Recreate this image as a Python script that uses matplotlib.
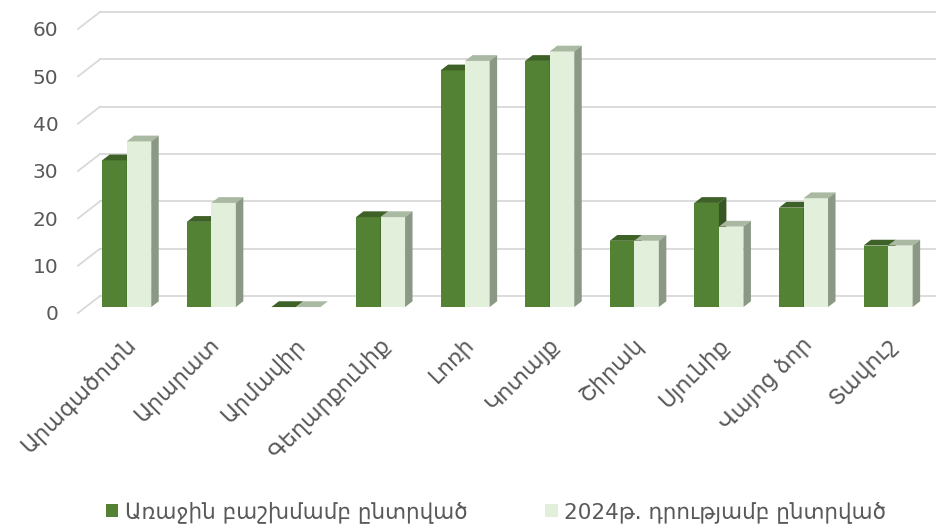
import matplotlib
matplotlib.use("Agg")
import matplotlib.pyplot as plt
from matplotlib.patches import Polygon, Patch

# data
regions = ["Արագածոտն", "Արարատ", "Արմավիր", "Գեղարքունիք", "Լոռի",
           "Կոտայք", "Շիրակ", "Սյունիք", "Վայոց ձոր", "Տավուշ"]
first_alloc = [31, 18, 0, 19, 50, 52, 14, 22, 21, 13]
as_of_2024 = [35, 22, 0, 19, 52, 54, 14, 17, 23, 13]
series_names = ["Առաջին բաշխմամբ ընտրված", "2024թ. դրությամբ ընտրված"]
yticks = [0, 10, 20, 30, 40, 50, 60]

# style
front_cols = ["#548235", "#E2EFDA"]
top_cols = ["#3D6126", "#AAB9A2"]
side_cols = ["#375623", "#8C9886"]
grid_col = "#D9D9D9"
text_col = "#595959"

W, H = 936, 529
fig = plt.figure(figsize=(W / 100, H / 100), dpi=100)
ax = fig.add_axes([78 / W, 216 / H, 858 / W, 284 / H])

xmin, xmax = -0.485, 9.657
ax.set_xlim(xmin, xmax)
ax.set_ylim(0, 60)

# fake 3d depth (floor depth in data units)
ddx, ddy = 0.26, 3.59
f0, f1 = 0.35, 0.69
bw = 0.29

# back wall gridlines and left diagonals
for v in yticks:
    ax.plot([xmin, xmin + ddx], [v, v + ddy], color=grid_col, lw=1.3,
            clip_on=False, zorder=1)
    ax.plot([xmin + ddx, xmax + 1], [v + ddy, v + ddy], color=grid_col,
            lw=1.3, clip_on=False, zorder=1)

dx = (f1 - f0) * ddx
dy = (f1 - f0) * ddy
base = f0 * ddy
for i in range(len(regions)):
    for k, vals in enumerate([first_alloc, as_of_2024]):
        v = vals[i]
        x0 = i - bw + k * bw + f0 * ddx
        z = 2 + i * 2 + k
        ax.bar(x0, v, bw, bottom=base, align="edge", color=front_cols[k],
               linewidth=0, zorder=z)
        top = [(x0, v + base), (x0 + bw, v + base),
               (x0 + bw + dx, v + base + dy), (x0 + dx, v + base + dy)]
        side = [(x0 + bw, base), (x0 + bw, v + base),
                (x0 + bw + dx, v + base + dy), (x0 + bw + dx, base + dy)]
        ax.add_patch(Polygon(top, closed=True, color=top_cols[k], lw=0,
                             zorder=z, clip_on=False))
        ax.add_patch(Polygon(side, closed=True, color=side_cols[k], lw=0,
                             zorder=z, clip_on=False))

ax.set_yticks(yticks)
ax.set_yticklabels([str(t) for t in yticks], fontsize=14.5, color=text_col)
ax.set_xticks([i + 0.07 for i in range(len(regions))])
ax.set_xticklabels(regions, fontsize=16, color=text_col, rotation=45,
                   ha="right", va="top", rotation_mode="anchor")
ax.tick_params(axis="y", length=0, pad=14)
ax.tick_params(axis="x", length=0, pad=15)
for s in ax.spines.values():
    s.set_visible(False)
ax.set_facecolor("none")

handles = [Patch(facecolor=front_cols[0]), Patch(facecolor=front_cols[1])]
fig.legend(handles, series_names, loc="center", bbox_to_anchor=(496 / W, 1 - 512 / H),
           ncol=2, frameon=False, fontsize=15.5, handlelength=0.6,
           handleheight=0.6, handletextpad=0.3, columnspacing=3.6,
           labelcolor=text_col)

fig.savefig("out.png", dpi=100)
